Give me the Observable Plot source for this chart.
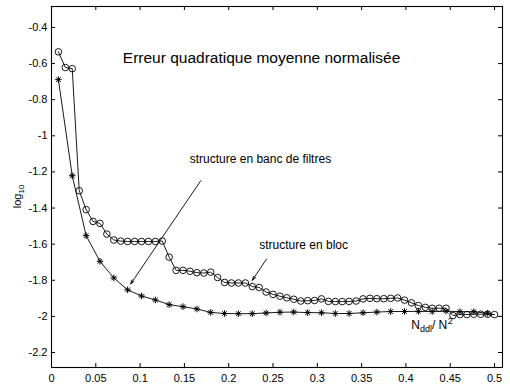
<!DOCTYPE html>
<html><head><meta charset="utf-8">
<script src="https://cdn.jsdelivr.net/npm/d3@7"></script>
<script src="https://cdn.jsdelivr.net/npm/@observablehq/plot@0.6"></script>
<style>html,body{margin:0;padding:0;background:#fff;} svg{display:block}</style>
</head><body><div id="chart"></div>
<script>
// ---- data ----
const blocX = [0.0078, 0.0156, 0.0234, 0.0313, 0.0391, 0.0469, 0.0547, 0.0625, 0.0703, 0.0781, 0.0859, 0.0938, 0.1016, 0.1094, 0.1172, 0.125,
  0.1328, 0.1406, 0.1484, 0.1563, 0.1641, 0.1719, 0.1797, 0.1875, 0.1953, 0.2031, 0.2109, 0.2188, 0.2266, 0.2344, 0.2422, 0.25,
  0.2578, 0.2656, 0.2734, 0.2813, 0.2891, 0.2969, 0.3047, 0.3125, 0.3203, 0.3281, 0.3359, 0.3438, 0.3516, 0.3594, 0.3672, 0.375,
  0.3828, 0.3906, 0.3984, 0.4063, 0.4141, 0.4219, 0.4297, 0.4375, 0.4453, 0.4531, 0.4609, 0.4688, 0.4766, 0.4844, 0.4922, 0.5];
const blocY = [-0.535, -0.622, -0.628, -1.304, -1.409, -1.474, -1.485, -1.544, -1.577, -1.583, -1.585, -1.585, -1.585, -1.585, -1.585, -1.583,
  -1.672, -1.745, -1.745, -1.750, -1.758, -1.760, -1.755, -1.785, -1.812, -1.815, -1.815, -1.815, -1.835, -1.840, -1.865, -1.878,
  -1.888, -1.897, -1.905, -1.915, -1.913, -1.912, -1.903, -1.917, -1.918, -1.918, -1.917, -1.915, -1.903, -1.900, -1.902, -1.902,
  -1.900, -1.898, -1.910, -1.925, -1.940, -1.950, -1.955, -1.955, -1.955, -1.995, -1.990, -1.990, -1.988, -1.988, -1.988, -1.990];
const bancX = [0.0078, 0.0234, 0.0391, 0.0547, 0.0703, 0.0859, 0.1016, 0.1172, 0.1328, 0.1484, 0.1641, 0.1797, 0.1953, 0.2109, 0.2266, 0.2422,
  0.2578, 0.2734, 0.2891, 0.3047, 0.3203, 0.3359, 0.3516, 0.3672, 0.3828, 0.3984, 0.4141, 0.4297, 0.4453, 0.4609, 0.4766, 0.4922];
const bancY = [-0.689, -1.221, -1.553, -1.695, -1.787, -1.853, -1.887, -1.909, -1.935, -1.946, -1.959, -1.978, -1.984, -1.985, -1.985, -1.981,
  -1.977, -1.976, -1.979, -1.980, -1.984, -1.984, -1.980, -1.976, -1.973, -1.973, -1.972, -1.973, -1.971, -1.974, -1.974, -1.983];

const xTicks = [0, 0.05, 0.1, 0.15, 0.2, 0.25, 0.3, 0.35, 0.4, 0.45, 0.5];
const yTicks = [-0.4, -0.6, -0.8, -1, -1.2, -1.4, -1.6, -1.8, -2, -2.2];

const titleText = "Erreur quadratique moyenne normalisée";
const labelBanc = "structure en banc de filtres";
const labelBloc = "structure en bloc";

// annotation anchors in data coordinates
const titleAt = [0.0805, -0.569];
const bancTextAt = [0.156, -1.128];
const blocTextAt = [0.2345, -1.606];
const bancArrow = [0.1684, -1.249, 0.0894, -1.820];
const blocArrow = [0.2427, -1.682, 0.2267, -1.800];
const xLabelAt = [0.43, -2.075];

// ---- build ----
const W = 510, H = 389, mL = 51, mR = 8, mT = 6, mB = 22;
const innerW = W - mL - mR, innerH = H - mT - mB;

const bloc = blocX.map((x, i) => ({x, y: blocY[i]}));
const banc = bancX.map((x, i) => ({x, y: bancY[i]}));

const asterisk8 = {
  draw(ctx, size) {
    const r = Math.sqrt(size / Math.PI), d = r * Math.SQRT1_2;
    ctx.moveTo(-r, 0); ctx.lineTo(r, 0);
    ctx.moveTo(0, -r); ctx.lineTo(0, r);
    ctx.moveTo(-d, -d); ctx.lineTo(d, d);
    ctx.moveTo(-d, d); ctx.lineTo(d, -d);
  }
};

const arrows = [bancArrow, blocArrow].map(a => ({x1: a[0], y1: a[1], x2: a[2], y2: a[3]}));
const texts = [
  {x: titleAt[0], y: titleAt[1], t: titleText, s: 15.5},
  {x: bancTextAt[0], y: bancTextAt[1], t: labelBanc, s: 12},
  {x: blocTextAt[0], y: blocTextAt[1], t: labelBloc, s: 12}
];

const plot = Plot.plot({
  width: W, height: H,
  marginLeft: mL, marginRight: mR, marginTop: mT, marginBottom: mB,
  style: {fontFamily: "'Liberation Sans', Arial, sans-serif", fontSize: "11px", background: "#fff", color: "#000"},
  x: {domain: [0, 0.509]},
  y: {domain: [-2.283, -0.284]},
  marks: [
    Plot.frame({stroke: "#000", strokeWidth: 1.1}),
    Plot.tickX(xTicks, {x: d => d, insetTop: innerH - 4, stroke: "#000"}),
    Plot.tickX(xTicks, {x: d => d, insetBottom: innerH - 4, stroke: "#000"}),
    Plot.tickY(yTicks, {y: d => d, insetRight: innerW - 4, stroke: "#000"}),
    Plot.tickY(yTicks, {y: d => d, insetLeft: innerW - 4, stroke: "#000"}),
    Plot.axisX({ticks: xTicks, tickSize: 0, tickPadding: 7, tickFormat: d => String(d), label: null}),
    Plot.axisY({ticks: yTicks, tickSize: 0, tickPadding: 4, tickFormat: d => String(d), label: null}),
    Plot.line(bloc, {x: "x", y: "y", stroke: "#000", strokeWidth: 0.9}),
    Plot.dot(bloc, {x: "x", y: "y", r: 3.3, stroke: "#000", fill: "none", strokeWidth: 0.9}),
    Plot.line(banc, {x: "x", y: "y", stroke: "#000", strokeWidth: 0.9}),
    Plot.dot(banc, {x: "x", y: "y", r: 3.3, symbol: asterisk8, stroke: "#000", fill: "none", strokeWidth: 1}),
    Plot.arrow(arrows, {x1: "x1", y1: "y1", x2: "x2", y2: "y2", stroke: "#000", strokeWidth: 0.9, headLength: 7, headAngle: 35}),
    Plot.text(texts, {x: "x", y: "y", text: "t", fontSize: "s", textAnchor: "start", fill: "#000"})
  ]
});

const svg = d3.select(plot);
const sx = plot.scale("x"), sy = plot.scale("y");

// y label: log10 (rotated)
const yl = svg.append("text")
  .attr("transform", `translate(21,${(mT + H - mB) / 2 + 10}) rotate(-90)`)
  .attr("text-anchor", "middle")
  .attr("font-size", 11).attr("fill", "#000");
yl.append("tspan").text("log");
yl.append("tspan").attr("font-size", 8).attr("dy", 3).text("10");

// x label: N_ddl / N^2
const xl = svg.append("text")
  .attr("x", sx.apply(xLabelAt[0])).attr("y", sy.apply(xLabelAt[1]))
  .attr("font-size", 12).attr("fill", "#000");
xl.append("tspan").text("N");
xl.append("tspan").attr("font-size", 9).attr("dy", 3).text("ddl");
xl.append("tspan").attr("dy", -3).text("/ N");
xl.append("tspan").attr("font-size", 9).attr("dx", 0.5).attr("dy", -5).text("2");

document.getElementById("chart").appendChild(plot);
</script></body></html>
